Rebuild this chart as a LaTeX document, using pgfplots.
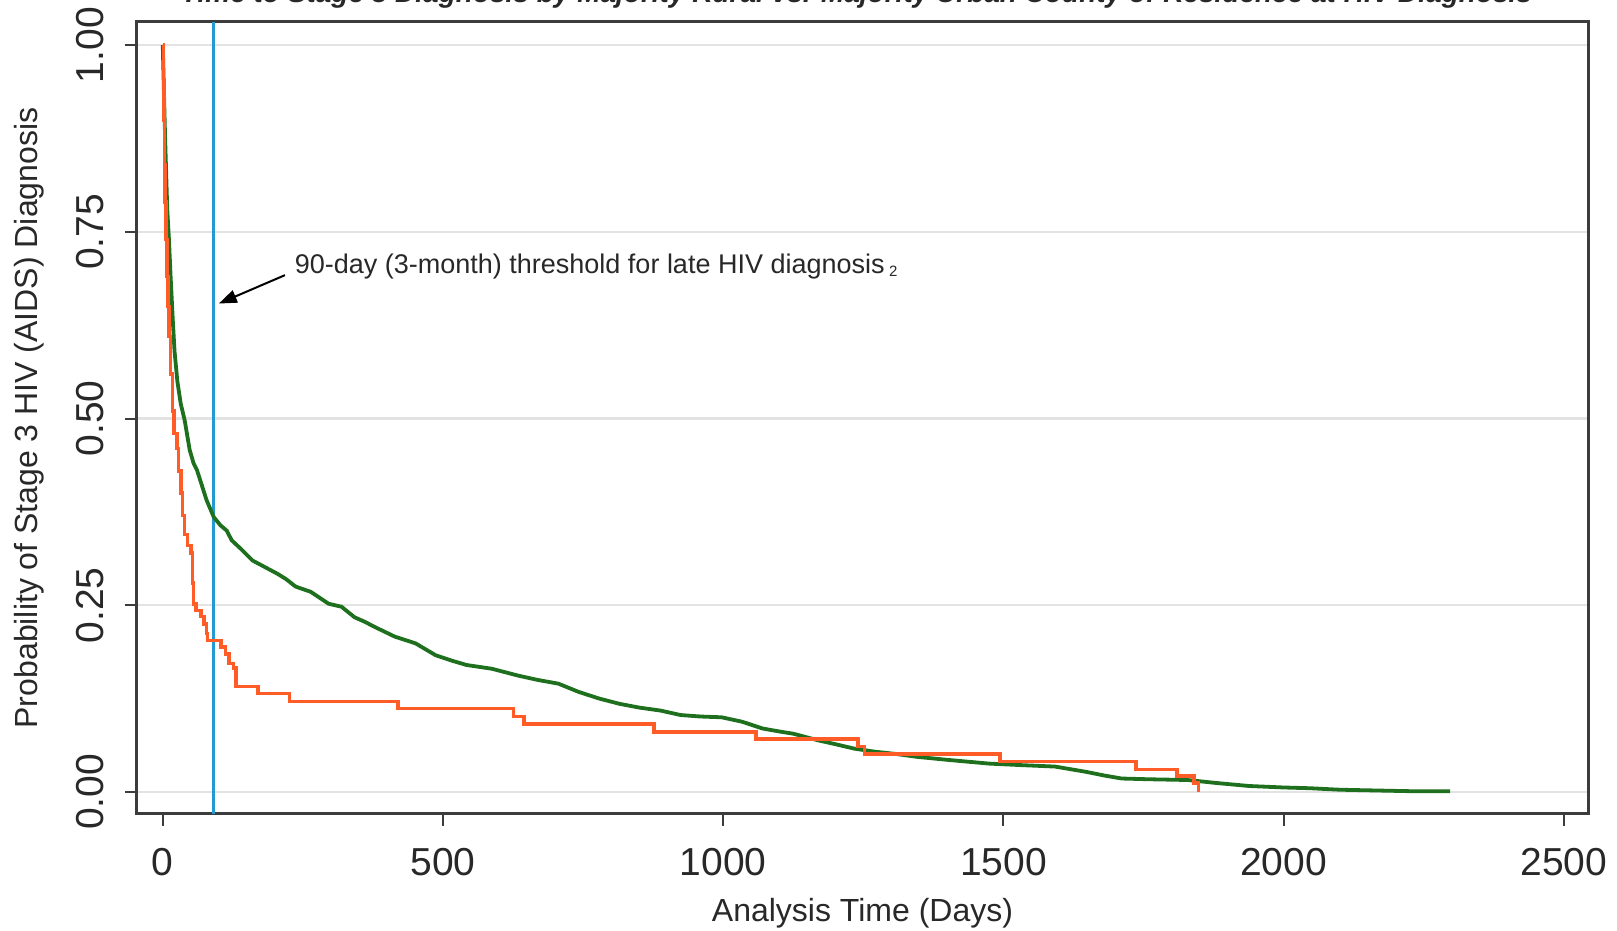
\documentclass[border=0pt]{standalone}
\usepackage{fontspec}
\setmainfont{Liberation Sans}
\usepackage{pgfplots}
\pgfplotsset{compat=1.18}
\usetikzlibrary{arrows.meta}

\definecolor{kmgreen}{RGB}{30,112,30}
\definecolor{kmorange}{RGB}{255,92,40}
\definecolor{kmblue}{RGB}{35,155,210}
\definecolor{framegray}{RGB}{60,60,60}
\definecolor{txtgray}{RGB}{40,40,40}

\begin{document}
\begin{tikzpicture}
\begin{axis}[
  scale only axis,
  width=725.5pt, height=396pt,
  xmin=-46, xmax=2543, ymin=-0.0295, ymax=1.031,
  xtick={0,500,...,2500},
  ytick={0,0.25,0.5,0.75,1},
  xtick pos=bottom, ytick pos=left,
  tick align=outside,
  major tick length=6pt,
  every tick/.style={framegray, line width=1pt},
  axis line style={framegray, line width=1.5pt},
  ymajorgrids,
  major grid style={gray!22, line width=1.2pt},
  /pgf/number format/assume math mode=true,
  /pgf/number format/1000 sep={},
  ticklabel style={font=\fontsize{19.5}{20}\selectfont, text=txtgray},
  xticklabel style={yshift=-7.5pt},
  yticklabel style={rotate=90, anchor=south, yshift=7pt,
    /pgf/number format/.cd, fixed, fixed zerofill, precision=2, /tikz/.cd},
  xlabel={Analysis Time (Days)},
  ylabel={Probability of Stage 3 HIV (AIDS) Diagnosis},
  label style={font=\fontsize{16}{18}\selectfont, text=txtgray},
  xlabel style={at={(axis description cs:0.5,-0.1256)}, anchor=center},
  ylabel style={at={(axis description cs:-0.0744,0.5)}, anchor=center},
]
% 90-day threshold
\addplot[kmblue, line width=1.3pt] coordinates {(90,-0.0295) (90,1.031)};

% majority urban
\addplot[kmgreen, line width=1.9pt] coordinates {
(0,1.0)(2,0.94)(4,0.88)(6,0.83)(8,0.78)(11,0.74)(14,0.69)(18,0.63)(21,0.59)(26,0.55)
(32,0.52)(39,0.498)(48,0.458)(55,0.44)(61,0.431)(70,0.41)(78,0.391)(91,0.368)
(103,0.357)(114,0.350)(123,0.337)(140,0.325)(160,0.310)(180,0.302)(205,0.292)
(220,0.285)(237,0.275)(264,0.268)(280,0.26)(296,0.252)(319,0.248)(342,0.234)
(360,0.228)(378,0.221)(414,0.208)(451,0.199)(487,0.183)(515,0.176)(542,0.170)
(587,0.165)(633,0.156)(669,0.150)(706,0.145)(742,0.134)(779,0.125)(815,0.118)
(850,0.113)(888,0.109)(924,0.103)(960,0.101)(997,0.100)(1034,0.094)(1070,0.085)
(1100,0.081)(1125,0.078)(1150,0.073)(1170,0.069)(1200,0.064)(1234,0.058)
(1270,0.054)(1307,0.051)(1346,0.047)(1400,0.043)(1474,0.038)(1530,0.036)
(1592,0.034)(1647,0.027)(1680,0.022)(1711,0.018)(1760,0.017)(1829,0.016)
(1880,0.012)(1938,0.008)(2000,0.006)(2047,0.005)(2100,0.003)(2138,0.0024)
(2229,0.001)(2297,0.001)
};

% majority rural
\addplot[kmorange, line width=1.8pt, const plot] coordinates {
(0,1.0)(1,0.95)(2,0.90)(3,0.84)(4,0.79)(6,0.74)(7,0.69)(9,0.65)(11,0.61)(14,0.56)
(17,0.51)(20,0.48)(25,0.46)(28,0.43)(32,0.40)(35,0.37)(39,0.345)(44,0.33)
(50,0.32)(53,0.28)(55,0.252)(59,0.243)(68,0.235)(74,0.225)(78,0.212)(80,0.203)
(104,0.194)(112,0.185)(118,0.172)(126,0.166)(131,0.141)(170,0.132)(226,0.121)
(420,0.112)(626,0.101)(645,0.091)(876,0.080)(1058,0.071)(1240,0.061)(1252,0.051)
(1494,0.041)(1737,0.030)(1810,0.021)(1840,0.012)(1848,0.0)
};

\draw[black, line width=1pt, -{Triangle[length=9pt,width=6.5pt]}] (218,0.692) -- (100,0.654);
\node[anchor=west, font=\fontsize{13.5}{15}\selectfont, text=txtgray, inner sep=0pt] at (axis cs:235,0.703)
  {90-day (3-month) threshold for late HIV diagnosis\,\raisebox{-1.5pt}{\fontsize{7.5}{8}\selectfont 2}};

\coordinate (sw) at (rel axis cs:0,0);
\coordinate (ne) at (rel axis cs:1,1);
\coordinate (tc) at (rel axis cs:0.5,1);
\end{axis}
\node[anchor=base, text=txtgray, font=\bfseries\itshape\fontsize{14}{16}\selectfont] at ([yshift=9.5pt]tc)
  {Time to Stage 3 Diagnosis by Majority Rural vs. Majority Urban County of Residence at HIV Diagnosis\textsuperscript{1}};
\pgfresetboundingbox
\path[use as bounding box] ([shift={(-68.5pt,-58.5pt)}]sw) rectangle ([shift={(14.5pt,11pt)}]ne);
\end{tikzpicture}
\end{document}
